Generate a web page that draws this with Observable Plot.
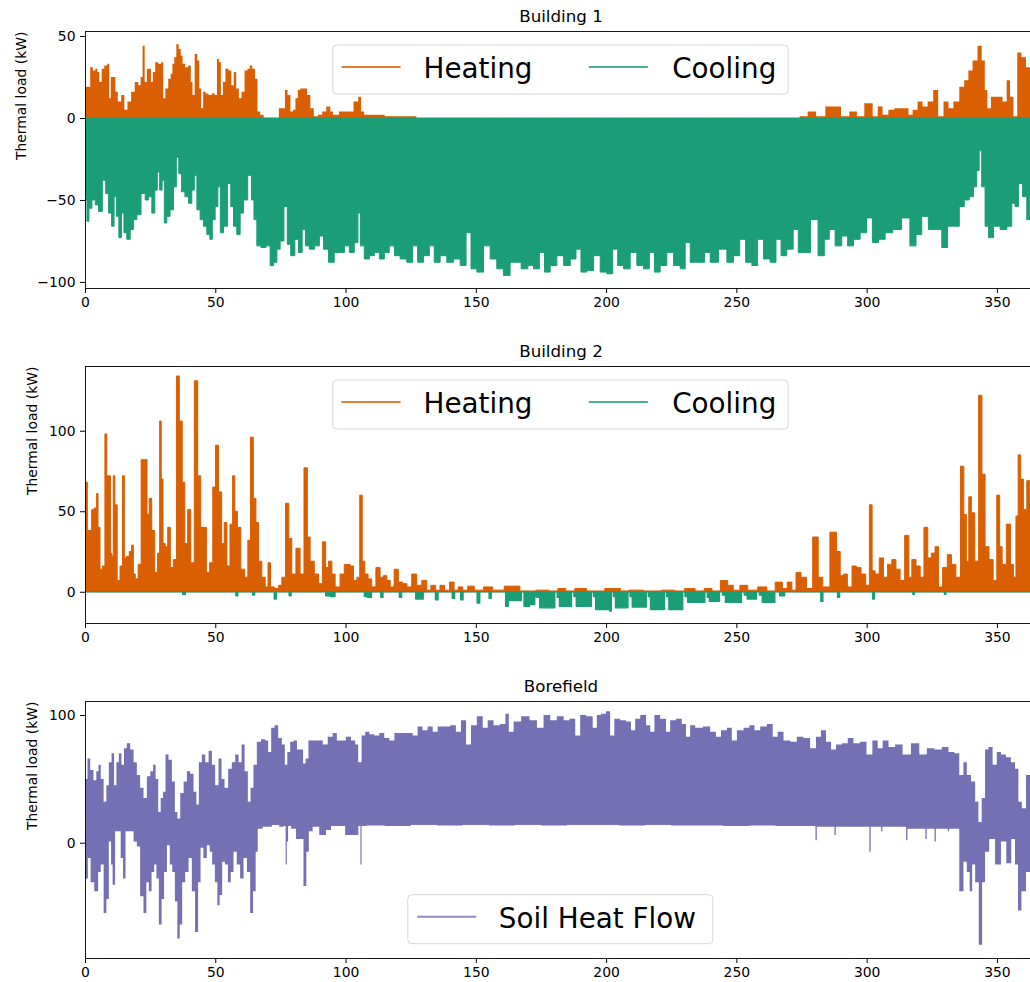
<!DOCTYPE html>
<html>
<head>
<meta charset="utf-8">
<script src="https://cdn.jsdelivr.net/npm/d3@7"></script>
<script src="https://cdn.jsdelivr.net/npm/@observablehq/plot@0.6"></script>
<style>
html, body { margin: 0; padding: 0; overflow: hidden; background: #fff; }
#chart { width: 1040px; }
#chart svg { display: block; }
</style>
</head>
<body>
<div id="chart"></div>
<script>
// ---------- data (day of year, kW) ----------
const xTicks = [0, 50, 100, 150, 200, 250, 300, 350];
const titles = ["Building 1", "Building 2", "Borefield"];
const yLabel = "Thermal load (kW)";
const b1Ticks = [-100, -50, 0, 50];
const b2Ticks = [0, 50, 100];
const bfTicks = [0, 100];

// Building 1 – heating, upper envelope
const b1Heating = [[0,19],[1.5,19],[2.5,31],[3.5,29],[4.5,30],[5,28],[6,22],[6.8,30],[8,32],[9,33],[9.6,12],[10.2,25],[11.3,25],[12,16],[13.2,10],[14.6,14],[15.6,5],[17,10],[18.4,16],[19.8,22],[21,20],[21.7,25],[22.5,44],[23.3,22],[24.2,30],[25,30],[25.6,22],[26.5,28],[27.4,34],[28.8,33],[29.6,34],[30.4,12],[31.3,18],[32.6,24],[33.2,27],[33.9,33],[34.6,37],[35.5,45],[36.4,42],[37.1,38],[37.8,33],[39,31],[40.3,32],[40.9,22],[41.6,14],[42.6,39],[43.5,35],[44.2,18],[44.9,6],[45.8,16],[46.8,15],[48,14],[49.3,15],[50.3,14],[51,36],[51.8,34],[52.5,14],[53.4,22],[54.4,30],[55.7,29],[56.6,20],[57.6,28],[58.5,18],[59.6,12],[60.6,16],[61.9,29],[62.8,30],[63.7,32],[64.7,30],[65.8,24],[66.6,4],[67.9,2],[69.2,0],[74,0],[74.8,6],[76.2,6],[77.3,17],[78.2,14],[79.5,4],[80.1,5],[81.4,12],[82,17],[83.3,18],[84.6,18],[85.8,14],[87.2,6],[88.4,1],[90.4,2],[91.7,4],[93.5,7],[94.8,4],[95.6,2],[99.4,4],[101.8,4],[104.3,10],[105.4,13],[106.5,4],[107.8,2],[110,2],[114,2],[116,1],[121,1],[126.4,1],[128,0],[274,0],[274.5,1],[280.2,4],[281,1],[287.3,7],[289.2,7],[291.1,1],[295.6,4],[296.9,1],[301.3,9],[303.3,1],[305.2,7],[307,2],[309.7,5],[311.6,6],[315.4,6],[316.7,2],[318.6,5],[320.5,10],[322.4,7],[324.4,10],[326.7,17],[328.2,1],[330.8,10],[332,6],[334.6,10],[336.5,19],[338.4,23],[339.7,29],[341.6,35],[343.5,44],[344.8,35],[345.9,17],[346.7,6],[348.7,13],[351.2,13],[353.1,10],[354.4,23],[355.7,13],[357,1],[358.6,40],[360.2,37],[362.1,31],[364.9,30]];

// Building 1 – cooling, lower envelope
const b1Cooling = [[0,-50],[0.5,-50],[1,-63],[2,-55],[3.3,-50],[4.6,-53],[5.8,-57],[7.5,-38],[8.4,-46],[9.7,-58],[10.7,-66],[11.6,-48],[12.5,-60],[13.5,-73],[14.5,-58],[15.4,-70],[16.7,-74],[18,-68],[19.3,-62],[20.5,-59],[22.5,-46],[23.7,-50],[25,-48],[26.3,-58],[27.3,-44],[28.2,-33],[29.1,-44],[30.1,-38],[30.8,-64],[32,-60],[33.3,-56],[34.6,-42],[35.5,-24],[36.5,-34],[37.6,-45],[39.1,-48],[40.4,-52],[41.6,-44],[42.3,-35],[43.6,-56],[44.8,-62],[46.1,-66],[47.4,-71],[48.4,-74],[49.3,-62],[50.6,-54],[51.4,-42],[52.5,-70],[53.8,-66],[55.5,-40],[56.4,-54],[57.6,-66],[58.9,-71],[60.2,-58],[61.5,-50],[63.4,-35],[64.4,-50],[65.3,-62],[66.6,-78],[68.5,-79],[70.4,-78],[71.7,-90],[73,-88],[74.3,-80],[75.5,-75],[77.2,-54],[78.1,-77],[79.8,-84],[81.3,-74],[82.6,-82],[84.1,-68],[85.1,-78],[87.1,-80],[89,-78],[90.9,-72],[92.2,-80],[94.7,-88],[96.6,-82],[98.6,-82],[100.5,-78],[102.4,-82],[104.3,-76],[105.2,-58],[106.2,-78],[108.2,-86],[110.1,-84],[112,-82],[114,-86],[115.8,-82],[117.8,-78],[119.7,-84],[122.2,-86],[124.8,-88],[126.7,-78],[128.6,-88],[131.2,-84],[133.1,-78],[135,-88],[137.6,-84],[140.1,-88],[142.7,-86],[145.3,-90],[147.2,-70],[149.1,-92],[151.7,-94],[154.2,-78],[156.8,-86],[159.3,-92],[161.9,-96],[164.4,-88],[165.8,-88],[169,-92],[170.9,-90],[173.4,-92],[175.4,-82],[177.3,-94],[179.8,-90],[182.4,-84],[185,-90],[187.5,-86],[189.4,-80],[191.3,-94],[193.9,-93],[196.5,-84],[199,-94],[201.6,-95],[203.5,-80],[205.4,-90],[208,-92],[210.5,-82],[213.1,-90],[215.6,-92],[217.6,-82],[219.5,-94],[222,-90],[224.6,-82],[227.2,-90],[229.7,-92],[231,-76],[233.6,-88],[236.8,-88],[238.7,-82],[241.2,-88],[245.1,-80],[247.6,-88],[250.2,-84],[252.4,-74],[254.7,-88],[257.2,-90],[259.1,-74],[261.7,-86],[264.2,-88],[266.2,-74],[268.1,-84],[270.6,-80],[273,-68],[274.5,-82],[277,-82],[279.9,-62],[282.8,-84],[284.7,-74],[286.6,-68],[289.2,-78],[291.7,-72],[293.7,-78],[296.2,-74],[298.8,-70],[301.1,-61],[303.3,-76],[305.8,-74],[308.4,-70],[311.6,-68],[315.2,-61],[318,-78],[319.9,-71],[322.4,-60],[325,-68],[327.6,-68],[330.1,-79],[332,-66],[334.6,-66],[336.5,-54],[338.4,-50],[340.4,-48],[341.6,-42],[342.9,-32],[343.5,-20],[344.8,-42],[346.1,-66],[347.4,-73],[350,-66],[352.5,-68],[355.1,-66],[356.3,-52],[357.6,-54],[358.9,-40],[360.8,-48],[362.1,-62],[364.9,-60]];

// Building 2 – heating peaks
const b2Heating = [[0,12],[0.5,68],[1.3,38],[2.3,38],[2.8,51],[4.2,52],[4.7,61],[5.3,40],[6.2,14],[7.3,16],[8,98],[8.7,72],[9.5,72],[10,24],[10.6,22],[11.1,72],[11.8,54],[12.9,7],[14,16],[14.8,72],[15.4,21],[16.5,22],[17.5,25],[18.3,29],[18.8,11],[19.8,8],[21,17],[22.1,82],[23.3,82],[24.3,48],[25,58],[26.2,38],[27.3,12],[28.4,24],[28.9,106],[29.6,70],[30.3,30],[31.2,28],[32.3,40],[33.2,15],[34.6,20],[35.6,134],[36.8,106],[37.8,68],[38.8,30],[40,51],[41.2,18],[42.7,131],[43.8,72],[45,40],[46,40],[47.2,12],[48.5,18],[49.6,65],[50.6,91],[51.9,62],[53,30],[53.9,43],[55,16],[56.3,42],[57,72],[58,50],[59,40],[60.6,14],[62,9],[63,32],[64,96],[65.2,58],[66,43],[67.2,19],[68.5,9],[69.8,3],[70.7,18],[71.7,3],[73.6,2],[74.9,4],[76.2,9],[77.7,55],[78.7,33],[80,11],[81.9,27],[83.2,11],[84.9,77],[85.8,34],[87,19],[89,11],[90.3,5],[91.9,31],[92.8,15],[94.1,19],[95.4,11],[96.6,3],[99.2,11],[99.8,17],[101.1,17],[102.4,16],[103.7,7],[105,9],[105.9,60],[106.9,19],[107.9,11],[109.4,8],[110.7,3],[112.6,15],[113.9,9],[115.2,10],[116.5,7],[117.8,3],[119.5,14],[121,6],[122.9,5],[124.2,3],[126.6,11],[128,4],[130.5,7],[131.8,1],[133.7,4],[135.5,1],[137,4],[139,1],[140.8,6],[142.5,1],[144,3],[146,1],[147.8,3.5],[151,1],[154.9,3],[158,1],[163.8,3.5],[170,0.5],[176,1],[180,0.5],[183,2],[186,0.5],[190,2],[195,0.5],[204,2],[207,0.5],[210.5,1],[218,0.5],[224.6,1],[228,0.5],[232.3,2],[236,0.5],[239.3,2],[242,0.5],[245.7,7],[247.6,4],[250,1],[252.7,4],[256,1],[260.4,3],[263,0.5],[266.8,6],[268.5,2],[270.6,6],[272,1],[273.8,12],[275.8,9],[278,2],[280.6,34],[282.2,9],[284.1,3],[287.7,37],[289.2,25],[290.5,10],[291.7,11],[293.5,3],[295.3,16],[296.9,15],[298.8,11],[300.5,4],[301.6,54],[302.6,13],[303.9,11],[305.8,21],[307.1,9],[309,17],[310.3,20],[312.2,14],[313.5,7],[315.7,35],[316.7,9],[318,20],[319.9,16],[321.2,9],[322.8,40],[324.1,21],[325.6,24],[326.9,28],[328.2,3],[330.1,15],[331.8,23],[333.3,17],[335.2,9],[336.8,78],[337.8,48],[338.7,19],[339.7,59],[340.7,49],[342.3,19],[343.7,122],[344.8,73],[346.1,28],[347.8,20],[349.3,7],[350.6,60],[351.5,28],[352.5,17],[354.7,42],[355.7,17],[357,9],[357.6,47],[358.7,85],[359.5,70],[360.8,51],[362.1,69],[363.5,45],[364.9,40]];

// Building 2 – cooling (negative)
const b2Cooling = [[0,0],[37,0],[38,-1.5],[39,0],[57.5,0],[58.3,-2.5],[59,0],[64,0],[64.7,-2],[65.5,0],[72.3,0],[73,-4.5],[73.8,0],[78,0],[78.7,-2.5],[79.5,0],[92,0],[92.8,-2.5],[95.4,-3],[96.5,0],[107,0],[107.5,-3],[109.4,-3.5],[110.5,0],[113.2,0],[113.9,-3.5],[114.8,0],[120.3,0],[121,-3.5],[122,0],[126.5,0],[127.4,-4.5],[129.3,-4.5],[130.3,0],[134,0],[135,-5],[136,0],[140.5,0],[141.4,-4],[142.3,0],[143.8,0],[144.6,-5],[145.6,0],[150,0],[151,-7],[152,0],[154.7,0],[155.5,-4],[156.3,0],[161,0],[161.9,-9],[163,-5.5],[167,-5.5],[168,0],[169,-9],[172.2,-8],[173,-3],[174,-3.5],[175,-10],[179.8,-10],[180.8,0],[181.7,-3.5],[182.5,-9],[186.2,-9],[187.2,0],[188.1,-3],[189,-9],[193.9,-9],[194.8,0],[195.5,-3],[196.5,-11],[201,-11],[201.6,-12],[202.4,0],[203.2,-3],[204,-10],[208,-10],[208.8,0],[209.6,-3],[210.5,-9.5],[215,-9.5],[215.8,0],[216.6,-3],[217.5,-11],[222,-11],[222.8,0],[223.6,-3],[224.6,-11],[229,-11],[229.8,0],[230.8,-3],[231.8,-6.5],[237.4,-6.5],[238.4,0],[239.3,-3.5],[240,-6],[243,-6],[244,0],[245.3,-2],[246.3,-6.5],[251.5,-6.5],[252.4,0],[253.6,-2],[254.7,-4.5],[257.2,-4.5],[258.2,0],[259.5,-2],[260.4,-6.5],[264.3,-6.5],[265.2,0],[268,-2.5],[269,0],[282,0],[282.8,-6],[283.6,0],[288.5,0],[289.2,-3.5],[290,0],[302,0],[302.6,-4.5],[303.4,0],[317.5,0],[318,-1.5],[318.6,0],[329.6,0],[330.1,-1.5],[330.7,0],[364.9,0]];

// Borefield – soil heat flow, upper envelope
const bfUpper = [[0,50],[0.5,50],[1.4,66],[2.6,57],[3.9,49],[4.8,56],[5.6,61],[6.5,50],[7.8,32],[8.6,45],[9.7,63],[10.7,70],[11.6,45],[12.5,63],[13.5,70],[14.5,61],[15.4,74],[16.7,78],[18,73],[19.3,63],[20.5,53],[21.8,43],[23.1,35],[24.4,52],[25.7,56],[26.6,61],[27.6,50],[28.6,24],[29.5,35],[30.4,40],[31.4,69],[32.7,65],[34,48],[35,24],[35.9,19],[37.2,39],[38.5,48],[39.7,56],[41,54],[42.3,40],[43.2,30],[44.2,63],[45.5,69],[46.8,63],[48.1,72],[49.3,61],[50.6,45],[51.9,66],[52.9,50],[54.2,43],[55.7,58],[57,63],[58.3,69],[59.6,63],[60.6,77],[61.9,56],[63.1,32],[64,43],[65.3,61],[66.6,79],[68.5,81],[69.8,80],[70.8,71],[72.1,90],[73.4,92],[74.9,82],[76.2,77],[77.2,61],[78.1,71],[79.4,79],[80.7,80],[82,73],[83.2,73],[84.2,62],[85.1,66],[86.4,80],[88.3,80],[90.3,80],[92.2,77],[94.1,83],[96,86],[97.3,80],[99.2,80],[101.1,83],[103.1,80],[104.3,77],[105.4,63],[106.9,84],[108.2,87],[110.1,85],[112,84],[113.9,86],[115.8,82],[117.8,80],[119.7,86],[122.2,86],[124.8,86],[126.7,84],[128.6,91],[130.5,88],[132.5,91],[134.4,87],[136.3,91],[138.9,91],[141.4,92],[143.3,87],[145.3,96],[147.2,77],[149.1,92],[151.7,99],[153.6,90],[155.5,96],[158.1,92],[160.6,93],[162.1,101],[163.2,87],[165.8,95],[169,99],[172.2,96],[174.7,90],[177.3,100],[179.8,96],[182.4,99],[185,96],[186.9,97],[189.4,84],[190.7,100],[193.9,99],[195.8,90],[197.1,100],[199,101],[200.9,103],[202.2,84],[204.1,97],[206.7,96],[208.6,95],[210.5,88],[211.8,97],[214.4,100],[216.3,92],[217.6,87],[219.5,100],[222,97],[224,87],[225.2,96],[228.4,97],[229.7,93],[231.6,83],[232.9,92],[235.5,90],[238.7,91],[241.2,87],[243.1,83],[245.1,88],[247.6,90],[248.9,80],[251.5,88],[254,90],[256,92],[257.9,88],[260.4,91],[263,93],[264.9,83],[266.8,87],[269.4,80],[271.9,79],[274.5,83],[277,82],[279.6,74],[281.5,83],[283.4,88],[285.4,79],[287.3,73],[289.2,77],[291.8,78],[293.7,82],[296.2,78],[298.8,79],[301.1,69],[303.3,80],[305.2,74],[307.1,80],[309.7,75],[312.2,77],[315.4,69],[318.6,78],[321.8,69],[324.4,74],[327.6,73],[330.1,75],[332.7,71],[334.6,70],[336.5,53],[337.8,63],[339.1,53],[341,48],[342.3,32],[343.5,16],[344.8,35],[346.1,73],[347.4,75],[349.3,61],[350.6,71],[352.5,69],[354.4,67],[356.3,63],[357.6,58],[358.9,32],[360.2,27],[362.1,53],[364.9,55]];

// Borefield – soil heat flow, lower envelope
const bfLower = [[0,-28],[0.5,-28],[1.7,-12],[2.6,-31],[4.5,-38],[5.6,-23],[6.5,-17],[7.8,-55],[8.6,-44],[9.7,1],[10.3,-17],[10.9,-33],[12.2,9],[13.2,9],[14.2,-12],[15,-28],[16.1,9],[18,9],[19.3,1],[20.5,-3],[21.8,-42],[23.1,-55],[24,-31],[25,-38],[26.1,-23],[27,-17],[27.8,-28],[28.9,-64],[29.9,-44],[30.8,-23],[32.1,-2],[33,-17],[34,-23],[35,-46],[35.9,-75],[36.8,-64],[37.8,-31],[39.1,-23],[40.4,-12],[41.6,-38],[42.9,-70],[43.9,-31],[44.8,-4],[46.1,-12],[47.4,-2],[48.3,-7],[49.3,-17],[50.4,-31],[51.2,-49],[52.1,-41],[53.2,-15],[54.2,-17],[55.5,-31],[56.4,-23],[57.6,-7],[58.9,-17],[60.2,-28],[61.5,-12],[62.8,-23],[64,-55],[65,-38],[66,-7],[66.6,11],[69.8,12.5],[73.6,14],[75.5,12.5],[76.8,13],[77.2,-17],[77.7,1],[78.2,13],[80,11],[82,3],[83.2,3],[84.5,-34],[85.4,-7],[86.4,9],[88.3,12.5],[91.5,6],[93.5,10],[95.4,13],[104.3,6],[105.5,13],[105.9,-17],[106.4,13],[110,13.5],[120,13],[130,14],[140,13.5],[150,14],[160,13.5],[170,14],[180,13.5],[190,14],[200,14],[210,13.5],[220,14],[230,13.5],[240,13.5],[250,13],[260,13.5],[270,13],[280.1,13],[280.6,2],[281.1,12.5],[287.4,12.5],[287.9,6],[288.4,12.5],[300.8,12.5],[301.3,-7],[301.8,12.5],[305.3,12.5],[305.8,9],[306.3,12.5],[314.9,12.5],[315.4,2],[315.9,11],[322.3,11],[322.8,3],[323.3,11],[325.8,11],[326.3,1],[326.8,11],[330.9,11],[331.4,9],[331.9,11],[334.6,11],[336.5,-38],[337.8,-15],[339.1,-23],[340,-38],[341,-17],[342.3,-31],[343.8,-80],[344.8,-31],[346.1,-7],[348,3],[350.6,-17],[352.5,1],[354.7,-16],[356.3,3],[357.6,-17],[358.6,-53],[360.2,-38],[362.1,-23],[364.9,-25]];

// ---------- styling ----------
const C = {
  heat: "#d95f02", cool: "#1b9e77", soil: "#7570b3",
  heatLeg: "rgb(224,127,53)", coolLeg: "rgb(73,177,146)", soilLeg: "rgb(145,141,194)"
};
const FONT = "'DejaVu Sans', 'Liberation Sans', sans-serif";
const toRows = arr => arr.map(([d, v]) => ({d, v}));

function makePanel({title, yDomain, yTicks, labelDx, marks}) {
  return Plot.plot({
    width: 1040, height: 335,
    marginLeft: 85, marginRight: 4, marginTop: 31, marginBottom: 47,
    style: {fontFamily: FONT, fontSize: "13.9px", color: "#000", background: "#fff", overflow: "visible", maxWidth: "none"},
    x: {domain: [0, 365], ticks: xTicks, tickSize: 5, tickPadding: 4, label: null, tickFormat: d3.format("d")},
    y: {domain: yDomain, ticks: yTicks, tickSize: 5, tickPadding: 5, label: null},
    marks: [
      ...marks,
      Plot.frame({stroke: "#000", strokeWidth: 0.9}),
      Plot.text([title], {text: d => d, frameAnchor: "top", dy: -15, lineAnchor: "middle", fontSize: 16.7, fill: "#000"}),
      Plot.text([yLabel], {text: d => d, frameAnchor: "left", rotate: -90, dx: labelDx, lineAnchor: "middle", fontSize: 13.9, fill: "#000"})
    ]
  });
}

function addLegend(svg, {top, boxHalfL, boxHalfR, items}) {
  const xr = svg.scale("x").range;
  const cx = (xr[0] + xr[1]) / 2;
  const g = d3.select(svg).append("g").attr("font-family", FONT).attr("text-anchor", "start");
  g.append("rect")
    .attr("x", cx - boxHalfL).attr("y", top)
    .attr("width", boxHalfL + boxHalfR).attr("height", 49)
    .attr("rx", 4).attr("fill", "#fff").attr("fill-opacity", 0.85)
    .attr("stroke", "#d6d6d6").attr("stroke-width", 1);
  for (const it of items) {
    g.append("line")
      .attr("x1", cx + it.l0).attr("x2", cx + it.l0 + 59)
      .attr("y1", top + 22).attr("y2", top + 22)
      .attr("stroke", it.color).attr("stroke-width", 2.1);
    g.append("text")
      .attr("x", cx + it.t0).attr("y", top + 33)
      .attr("text-anchor", "start")
      .attr("font-size", 27.8).attr("fill", "#000")
      .text(it.label);
  }
}

const chart = document.getElementById("chart");

// Panel 1
const p1 = makePanel({
  title: titles[0], yDomain: [-103.7, 53.05], yTicks: b1Ticks, labelDx: -64,
  marks: [
    Plot.areaY(toRows(b1Heating), {x: "d", y: "v", fill: C.heat, curve: "step", clip: true}),
    Plot.areaY(toRows(b1Cooling), {x: "d", y: "v", fill: C.cool, stroke: C.cool, strokeWidth: 1, curve: "step", clip: true})
  ]
});
chart.appendChild(p1);
addLegend(p1, {top: 31 + 14, boxHalfL: 227.7, boxHalfR: 227.7, items: [
  {label: "Heating", color: C.heatLeg, l0: -219, t0: -137},
  {label: "Cooling", color: C.coolLeg, l0: 28.3, t0: 111.7}
]});

// Panel 2
const p2 = makePanel({
  title: titles[1], yDomain: [-19.4, 140.2], yTicks: b2Ticks, labelDx: -52.5,
  marks: [
    Plot.areaY(toRows(b2Heating), {x: "d", y: "v", fill: C.heat, stroke: C.heat, strokeWidth: 1, curve: "step", clip: true}),
    Plot.areaY(toRows(b2Cooling), {x: "d", y: "v", fill: C.cool, stroke: C.cool, strokeWidth: 1.4, curve: "step", clip: true})
  ]
});
chart.appendChild(p2);
addLegend(p2, {top: 31 + 14, boxHalfL: 227.7, boxHalfR: 227.7, items: [
  {label: "Heating", color: C.heatLeg, l0: -219, t0: -137},
  {label: "Cooling", color: C.coolLeg, l0: 28.3, t0: 111.7}
]});

// Panel 3
const p3 = makePanel({
  title: titles[2], yDomain: [-90.3, 111], yTicks: bfTicks, labelDx: -52.5,
  marks: [
    Plot.areaY(toRows(bfUpper), {x: "d", y1: 14, y2: "v", fill: C.soil, curve: "step", clip: true}),
    Plot.areaY(toRows(bfLower), {x: "d", y1: "v", y2: 16, fill: C.soil, curve: "step", clip: true})
  ]
});
chart.appendChild(p3);
addLegend(p3, {top: 335 - 47 - 63.3, boxHalfL: 152.7, boxHalfR: 152.3, items: [
  {label: "Soil Heat Flow", color: C.soilLeg, l0: -143.3, t0: -61.7}
]});
</script>
</body>
</html>
